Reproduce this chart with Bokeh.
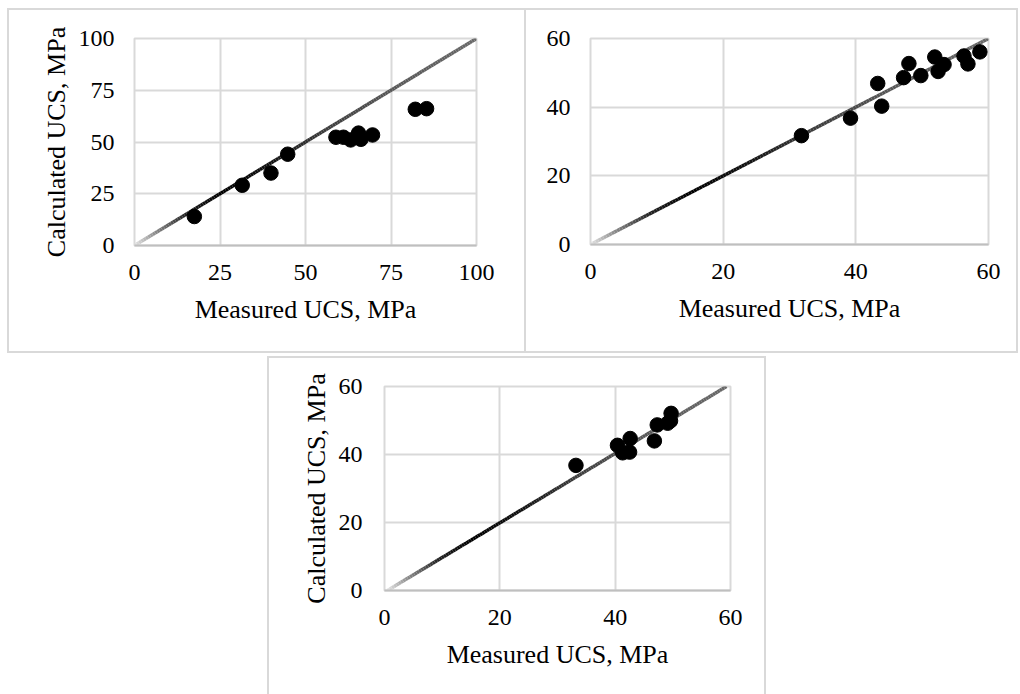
import numpy as np
from bokeh.plotting import figure
from bokeh.layouts import column, row
from bokeh.models import Spacer, FixedTicker, ColumnDataSource
from bokeh.embed import file_html
from bokeh.resources import INLINE

# ---- data -------------------------------------------------------------
# Panel A
a_measured = [17.5, 31.5, 39.9, 44.8, 58.9, 61.1, 63.2, 65.5, 66.2, 69.6, 82.1, 85.4]
a_calculated = [14.0, 29.1, 35.0, 44.1, 52.3, 52.3, 51.0, 54.3, 51.3, 53.4, 65.8, 66.1]
a_ticks = [0, 25, 50, 75, 100]
a_line_x = [0, 100]
a_line_y = [0, 100]

# Panel B
b_measured = [31.8, 39.2, 43.3, 43.9, 47.2, 48.0, 49.8, 51.9, 52.4, 53.3, 56.3, 56.9, 58.7]
b_calculated = [31.7, 36.8, 46.9, 40.3, 48.6, 52.7, 49.2, 54.6, 50.4, 52.4, 54.9, 52.6, 56.1]
b_ticks = [0, 20, 40, 60]
b_line_x = [0, 60]
b_line_y = [0, 60]

# Panel C
c_measured = [33.2, 40.4, 41.3, 42.6, 42.5, 46.8, 47.3, 49.1, 49.7, 49.6]
c_calculated = [36.8, 42.7, 40.5, 44.7, 40.7, 44.0, 48.7, 49.2, 52.1, 49.9]
c_ticks = [0, 20, 40, 60]
c_line_x = [0.5, 59.3]
c_line_y = [0, 60]

x_title = "Measured UCS, MPa"
y_title = "Calculated UCS, MPa"

# ---- styling ----------------------------------------------------------
FONT = "Liberation Serif"
GRID = "#d9d9d9"
BORDER = "2px solid #d9d9d9"

# gradient stops along the 1:1 line (fraction, grey level)
GRAD_T = [0.0, 0.06, 0.15, 0.25, 0.40, 0.55, 0.75, 1.0]
GRAD_V = [230, 140, 35, 0, 20, 60, 88, 105]


def gradient_line(p, lx, ly, n=150):
    t = np.linspace(0.0, 1.0, n + 1)
    xs = lx[0] + (lx[1] - lx[0]) * t
    ys = ly[0] + (ly[1] - ly[0]) * t
    mid = 0.5 * (t[:-1] + t[1:])
    lev = np.interp(mid, GRAD_T, GRAD_V).astype(int)
    cols = ["#%02x%02x%02x" % (v, v, v) for v in lev]
    src = ColumnDataSource(dict(x0=xs[:-1], y0=ys[:-1], x1=xs[1:], y1=ys[1:], c=cols))
    p.segment("x0", "y0", "x1", "y1", source=src, line_color="c", line_width=3.5)


def panel(xs, ys, ticks, lx, ly, ylabel, fw, fh, ml, mr, mt, mb, styles,
          tick_standoff_y, label_standoff_y):
    p = figure(frame_width=fw, frame_height=fh,
               x_range=(ticks[0], ticks[-1]), y_range=(ticks[0], ticks[-1]),
               min_border_left=ml, min_border_right=mr,
               min_border_top=mt, min_border_bottom=mb,
               output_backend="svg", toolbar_location=None,
               background_fill_color="white", border_fill_color="white",
               outline_line_color=GRID, outline_line_width=2,
               styles=styles)
    for ax in (p.xaxis, p.yaxis):
        ax.ticker = FixedTicker(ticks=ticks)
        ax.major_tick_line_color = None
        ax.minor_tick_line_color = None
        ax.major_label_text_font = FONT
        ax.major_label_text_font_size = "24px"
        ax.major_label_text_color = "black"
        ax.axis_label_text_font = FONT
        ax.axis_label_text_font_size = "26px"
        ax.axis_label_text_font_style = "normal"
        ax.axis_label_text_color = "black"
    p.xaxis.axis_line_color = "#bfbfbf"
    p.xaxis.axis_line_width = 2
    p.yaxis.axis_line_color = None
    p.xaxis.major_label_standoff = 13
    p.xaxis.axis_label_standoff = 12
    p.yaxis.major_label_standoff = tick_standoff_y
    p.yaxis.axis_label_standoff = label_standoff_y
    p.xaxis.axis_label = x_title
    if ylabel:
        p.yaxis.axis_label = ylabel
    p.xgrid.ticker = FixedTicker(ticks=ticks)
    p.ygrid.ticker = FixedTicker(ticks=ticks)
    p.grid.grid_line_color = GRID
    p.grid.grid_line_width = 2

    gradient_line(p, lx, ly)
    p.scatter(xs, ys, size=14.5, marker="circle", fill_color="black", line_color="black")
    return p


p1 = panel(a_measured, a_calculated, a_ticks, a_line_x, a_line_y, y_title,
           338, 203, 125, 52, 28, 110, {"border": BORDER}, 14, 5)
p2 = panel(b_measured, b_calculated, b_ticks, b_line_x, b_line_y, None,
           396, 202, 64, 30, 28, 111,
           {"border-top": BORDER, "border-right": BORDER, "border-bottom": BORDER}, 14, 5)
p3 = panel(c_measured, c_calculated, c_ticks, c_line_x, c_line_y, y_title,
           342, 202, 115, 38, 28, 106,
           {"border-top": BORDER, "border-left": BORDER, "border-right": BORDER}, 16, 5)

page = column(
    Spacer(height=8),
    row(Spacer(width=7), p1, p2),
    Spacer(height=3),
    row(Spacer(width=267), p3),
)

open("out.html", "w").write(file_html(page, INLINE))
